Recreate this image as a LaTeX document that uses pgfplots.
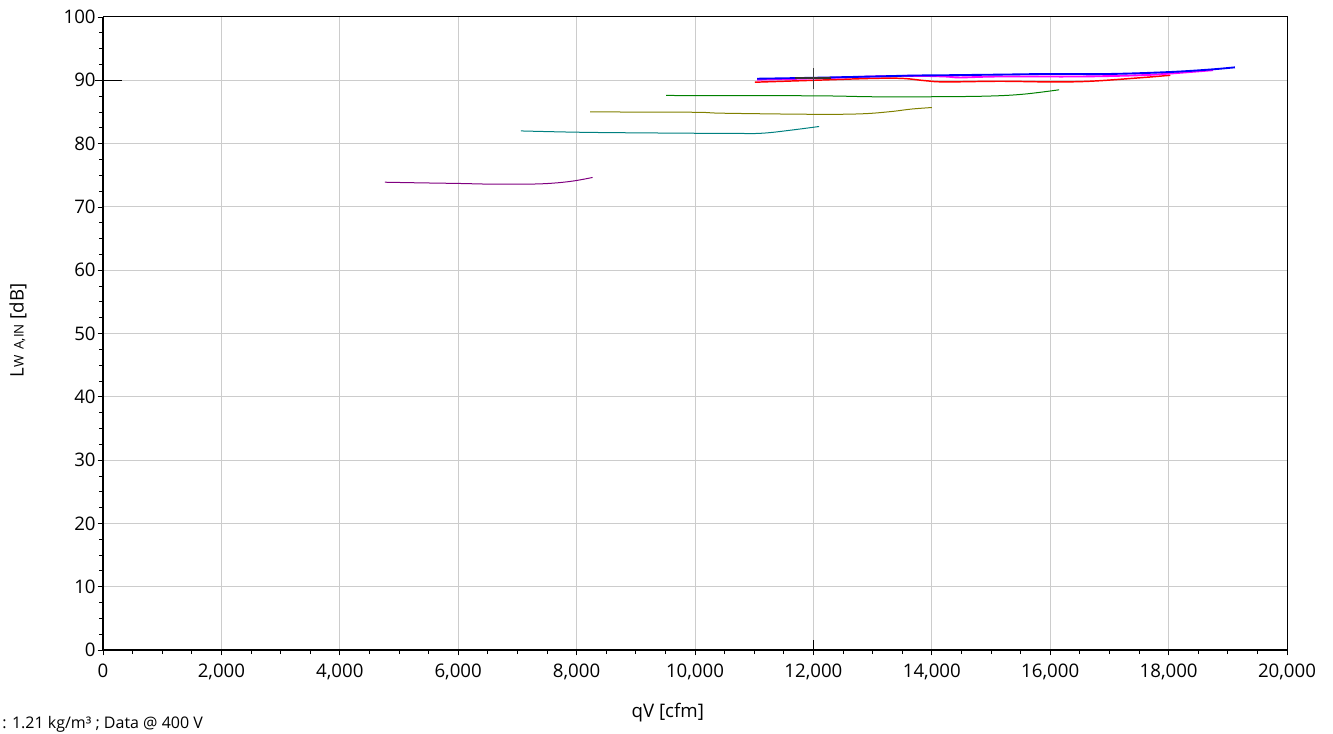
\documentclass[border=0pt]{standalone}
\usepackage{fontspec}
\setmainfont{Open Sans}
\usepackage{pgfplots}
\pgfplotsset{compat=1.18}
\definecolor{gridgray}{RGB}{204,204,204}
\definecolor{cpurple}{RGB}{128,0,128}
\definecolor{cteal}{RGB}{0,128,128}
\definecolor{colive}{RGB}{128,128,0}
\definecolor{cgreen}{RGB}{0,128,0}
\definecolor{cred}{RGB}{255,0,0}
\definecolor{cmagenta}{RGB}{255,0,255}
\definecolor{cblue}{RGB}{0,0,255}

\begin{document}
\begin{tikzpicture}
\begin{axis}[
    at={(77.25pt,62.25pt)}, anchor=south west,
    scale only axis, width=888pt, height=474.75pt,
    xmin=0, xmax=20000, ymin=0, ymax=100,
    xtick distance=2000, ytick distance=10,
    minor x tick num=3, minor y tick num=3,
    grid=major,
    major grid style={gridgray, line width=0.75pt},
    axis line style={black, line width=0.75pt},
    tick align=outside,
    major tick length=4pt, minor tick length=3pt,
    tick style={black, line width=0.6pt},
    xtick pos=lower, ytick pos=left,
    scaled x ticks=false,
    /pgf/number format/assume math mode=true,
    /pgf/number format/1000 sep={,},
    ticklabel style={font=\fontsize{14}{16}\selectfont},
    xticklabel style={yshift=-3pt},
    yticklabel style={xshift=2pt},
    xlabel={qV [cfm]},
    xlabel style={at={(axis description cs:0.477,-0.0995)}, anchor=center,
        font=\fontsize{14}{16}\selectfont},
    ylabel={L{\fontsize{10}{11}\selectfont W\, A,IN} [dB]},
    ylabel style={at={(axis description cs:-0.0718,0.505)}, anchor=center,
        font=\fontsize{14}{16}\selectfont},
    clip=false,
]
% purple
\addplot[cpurple, line width=0.75pt, smooth, tension=0.6] coordinates {
    (4760,73.9) (5350,73.8) (6030,73.7) (6540,73.6) (7200,73.6) (7600,73.75)
    (7950,74.1) (8270,74.65)
};
% teal
\addplot[cteal, line width=0.75pt, smooth, tension=0.6] coordinates {
    (7060,82.0) (8000,81.8) (9015,81.7) (10700,81.6) (11150,81.65) (11600,82.1) (12095,82.7)
};
% olive
\addplot[colive, line width=0.75pt, smooth, tension=0.6] coordinates {
    (8230,85.0) (9980,84.95) (10470,84.8) (12000,84.63) (12800,84.7) (13300,85.05)
    (13650,85.45) (14000,85.7)
};
% green
\addplot[cgreen, line width=0.75pt, smooth, tension=0.6] coordinates {
    (9510,87.6) (12000,87.55) (13000,87.4) (13970,87.4) (14930,87.5) (15540,87.8) (16150,88.5)
};
% red
\addplot[cred, line width=1.1pt, smooth, tension=0.6] coordinates {
    (11010,89.7) (12000,90.0) (13000,90.3) (13500,90.3) (13880,89.95) (14220,89.75)
    (15150,89.85) (16000,89.75) (16670,89.85) (17520,90.4) (18030,90.8)
};
% magenta
\addplot[cmagenta, line width=1.4pt, smooth, tension=0.6] coordinates {
    (11050,90.1) (12000,90.3) (13000,90.6) (13700,90.7) (14220,90.6) (14480,90.45)
    (15150,90.6) (16500,90.6) (17520,90.8) (18000,91.05) (18750,91.6)
};
% blue
\addplot[cblue, line width=1.4pt, smooth, tension=0.6] coordinates {
    (11050,90.25) (12000,90.4) (13000,90.6) (13700,90.75) (14220,90.8) (15150,90.9)
    (16000,91.0) (17000,91.0) (18000,91.3) (18700,91.7) (19120,92.05)
};
% operating point cursor
\addplot[black!80, line width=1.1pt] coordinates {(11690,90.4) (12300,90.4)};
\addplot[black!75, line width=0.9pt] coordinates {(12000,88.6) (12000,91.9)};
\addplot[black, line width=0.75pt] coordinates {(-130,90) (320,90)};
\addplot[black, line width=0.75pt] coordinates {(12000,-0.3) (12000,1.6)};
% heavy left and bottom spines
\draw[black, line width=1.6pt] (rel axis cs:0,1) -- (rel axis cs:0,0) -- (rel axis cs:1,0);
\end{axis}
\node[anchor=west, inner sep=0pt, font=\fontsize{12}{14}\selectfont] at (1.5pt,6.5pt)
    {: 1.21 kg/m³ ; Data @ 400 V};
\pgfresetboundingbox
\useasboundingbox (0,0) rectangle (999.75pt,549.75pt);
\end{tikzpicture}
\end{document}
